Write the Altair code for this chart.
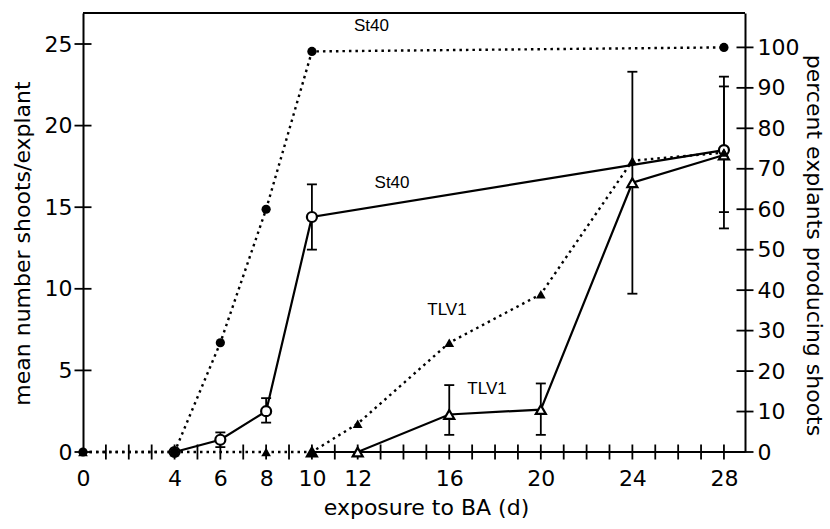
import altair as alt
import pandas as pd

# ---------------- data ----------------
x_tick_days = list(range(1, 29))
x_label_days = [0, 4, 6, 8, 10, 12, 16, 20, 24, 28]
left_tick_vals = [0, 5, 10, 15, 20, 25]
right_tick_vals = [0, 10, 20, 30, 40, 50, 60, 70, 80, 90, 100]

# percent explants producing shoots (dotted, filled markers)
st40_pct_days = [0, 4, 6, 8, 10, 28]
st40_pct = [0, 0, 27, 60, 99, 100]
tlv1_pct_days = [0, 4, 8, 10, 12, 16, 20, 24, 28]
tlv1_pct = [0, 0, 0, 0, 7, 27, 39, 72, 74]

# mean number of shoots per explant (solid, open markers, error bars)
st40_mean_days = [4, 6, 8, 10, 28]
st40_mean = [0, 0.75, 2.5, 14.4, 18.5]
st40_lo = [0, 0.3, 1.8, 12.4, 13.7]
st40_hi = [0, 1.2, 3.3, 16.4, 23.0]
tlv1_mean_days = [10, 12, 16, 20, 24, 28]
tlv1_mean = [0, 0, 2.3, 2.6, 16.5, 18.2]
tlv1_lo = [0, 0, 1.05, 1.05, 9.7, 14.7]
tlv1_hi = [0, 0, 4.1, 4.2, 23.3, 22.4]

# series labels (in day / mean-shoot units)
label_text = ["St40", "St40", "TLV1", "TLV1"]
label_day = [12.6, 13.5, 15.9, 17.65]
label_val = [26.1, 16.5, 8.7, 3.86]

X_MAX = 28.92
YL_MAX = 26.9
YR_MAX = 108.5
W, H = 662, 439
FONT = "DejaVu Sans"
FS = 22

# ---------------- tables ----------------
st40_pct_df = pd.DataFrame({"day": st40_pct_days, "v": st40_pct})
tlv1_pct_df = pd.DataFrame({"day": tlv1_pct_days, "v": tlv1_pct})
st40_df = pd.DataFrame({"day": st40_mean_days, "v": st40_mean, "lo": st40_lo, "hi": st40_hi})
tlv1_df = pd.DataFrame({"day": tlv1_mean_days, "v": tlv1_mean, "lo": tlv1_lo, "hi": tlv1_hi})
err_df = pd.concat([st40_df, tlv1_df])
err_df = err_df[err_df["hi"] > err_df["lo"]]
xt_df = pd.DataFrame({"day": x_tick_days})
lt_df = pd.DataFrame({"v": left_tick_vals})
rt_df = pd.DataFrame({"v": right_tick_vals})
lab_df = pd.DataFrame({"t": label_text, "day": label_day, "v": label_val})

xs = alt.Scale(domain=[0, X_MAX], nice=False, zero=False)
yl = alt.Scale(domain=[0, YL_MAX], nice=False, zero=False)
yr = alt.Scale(domain=[0, YR_MAX], nice=False, zero=False)

x_axis = alt.Axis(values=x_label_days, ticks=False, tickSize=0, domain=False,
                  labelFlush=False, labelPadding=16, title="exposure to BA (d)",
                  titlePadding=8, titleX=343)

X = lambda f="day": alt.X(f"{f}:Q", scale=xs, axis=x_axis)
XD = lambda d: alt.XDatum(d, scale=xs, axis=x_axis)
YL = lambda f="v": alt.Y(f"{f}:Q", scale=yl, axis=None)
YR = lambda f="v": alt.Y(f"{f}:Q", scale=yr, axis=None)

dot = dict(color="black", strokeWidth=2.4, strokeDash=[2.5, 4])

left_axis_line = alt.Chart(st40_df).mark_line(color="black", strokeWidth=2.2).encode(
    x=X(),
    y=alt.Y("v:Q", scale=yl,
            axis=alt.Axis(orient="left", values=left_tick_vals, ticks=False, tickSize=0,
                          labelFlush=False, labelPadding=11,
                          title="mean number shoots/explant",
                          titlePadding=10, titleY=230)),
)
tlv1_line = alt.Chart(tlv1_df).mark_line(color="black", strokeWidth=2.2).encode(x=X(), y=YL())

st40_pct_line = alt.Chart(st40_pct_df).mark_line(**dot).encode(
    x=X(),
    y=alt.Y("v:Q", scale=yr,
            axis=alt.Axis(orient="right", values=right_tick_vals, ticks=False, tickSize=0,
                          labelFlush=False, labelPadding=12,
                          title="percent explants producing shoots",
                          titlePadding=3, titleY=232)),
)
tlv1_pct_line = alt.Chart(tlv1_pct_df).mark_line(**dot).encode(x=X(), y=YR())

err_rule = alt.Chart(err_df).mark_rule(color="black", strokeWidth=1.8).encode(
    x=X(), y=YL("lo"), y2="hi:Q")
cap_lo = alt.Chart(err_df).mark_tick(orient="horizontal", color="black", size=10,
                                     thickness=1.8, opacity=1).encode(x=X(), y=YL("lo"))
cap_hi = alt.Chart(err_df).mark_tick(orient="horizontal", color="black", size=10,
                                     thickness=1.8, opacity=1).encode(x=X(), y=YL("hi"))

st40_pct_pts = alt.Chart(st40_pct_df).mark_point(shape="circle", filled=True, color="black",
                                                 size=85, opacity=1).encode(x=X(), y=YR())
tlv1_pct_pts = alt.Chart(tlv1_pct_df).mark_point(shape="triangle-up", filled=True, color="black",
                                                 size=95, opacity=1).encode(x=X(), y=YR())
st40_pts = alt.Chart(st40_df).mark_point(shape="circle", filled=True, fill="white",
                                         stroke="black", strokeWidth=2.2, size=100,
                                         opacity=1).encode(x=X(), y=YL())
tlv1_pts = alt.Chart(tlv1_df).mark_point(shape="triangle-up", filled=True, fill="white",
                                         stroke="black", strokeWidth=2.2, size=100,
                                         opacity=1).encode(x=X(), y=YL())

x_ticks = alt.Chart(xt_df).mark_tick(orient="vertical", color="black", size=15,
                                     thickness=1.8, opacity=1).encode(
    x=X(), y=alt.YDatum(0, scale=yl, axis=None))
l_ticks = alt.Chart(lt_df).mark_tick(orient="horizontal", color="black", size=17,
                                     thickness=1.8, opacity=1).encode(x=XD(0), y=YL())
r_ticks = alt.Chart(rt_df).mark_tick(orient="horizontal", color="black", size=17,
                                     thickness=1.8, opacity=1).encode(x=XD(X_MAX), y=YR())

base_rule = alt.Chart(xt_df).mark_rule(color="black", strokeWidth=2).encode(
    x=XD(10), x2=alt.value(W), y=alt.YDatum(0, scale=yl, axis=None))
top_rule = alt.Chart(xt_df).mark_rule(color="black", strokeWidth=2).encode(
    x=alt.value(0), x2=alt.value(W), y=alt.value(0))

labels = alt.Chart(lab_df).mark_text(font="Liberation Sans", fontSize=17, color="black",
                                     align="center", baseline="middle").encode(
    x=X(), y=YL(), text="t:N")

chart = alt.layer(
    left_axis_line, tlv1_line, st40_pct_line, tlv1_pct_line,
    base_rule, top_rule, x_ticks, l_ticks, r_ticks,
    err_rule, cap_lo, cap_hi,
    st40_pts, tlv1_pts, st40_pct_pts, tlv1_pct_pts, labels,
).resolve_scale(y="independent").properties(
    width=W, height=H,
    autosize=alt.AutoSizeParams(type="none"),
    padding={"left": 83, "top": 13, "right": 85, "bottom": 77},
).configure_view(stroke=None).configure_axis(
    grid=False, domainColor="black", domainWidth=2, labelColor="black", titleColor="black",
    labelFont=FONT, titleFont=FONT, labelFontSize=FS, titleFontSize=FS,
    titleFontWeight="normal",
)

chart.save("out.html", embed_options={"renderer": "svg", "actions": False})
